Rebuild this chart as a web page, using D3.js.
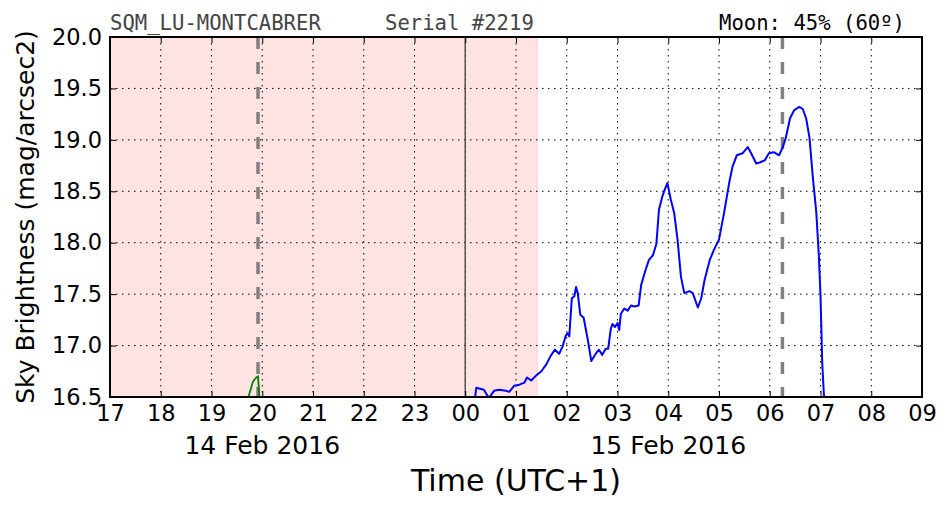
<!DOCTYPE html>
<html>
<head>
<meta charset="utf-8">
<script src="https://cdn.jsdelivr.net/npm/d3@7"></script>
<style>
  body { margin: 0; background: #fff; }
  svg { display: block; }
</style>
</head>
<body>
<div id="chart"></div>
<script>
// minutes after 00:00 on 15 Feb 2016 and sky brightness (mag/arcsec2)
const blueMinutes = [11, 13, 22, 28, 34, 40, 48, 52, 58, 64, 70, 73, 78, 84, 90, 96, 101, 106, 111, 115,
  119, 121, 123, 126, 129, 131, 133, 136, 140, 145, 149, 155, 158, 162, 166, 169, 172, 174, 177, 180,
  182, 184, 188, 192, 196, 200, 205, 208, 213, 217, 222, 226, 229, 233, 237, 239, 243, 247, 251, 255,
  259, 265, 269, 275, 279, 283, 289, 294, 300, 306, 312, 316, 321, 328, 334, 338, 344, 348, 354, 359,
  365, 371, 375, 379, 384, 389, 395, 399, 403, 407, 411, 415, 418, 420, 421, 422, 424, 425];
const blueValues = [16.45, 16.59, 16.57, 16.49, 16.56, 16.57, 16.56, 16.55, 16.61, 16.62, 16.64, 16.69, 16.66, 16.71, 16.75, 16.82, 16.90, 16.96, 16.92, 16.99,
  17.10, 17.12, 17.09, 17.46, 17.48, 17.57, 17.51, 17.30, 17.27, 17.05, 16.85, 16.93, 16.96, 16.91, 16.97, 16.97, 17.16, 17.21, 17.18, 17.22,
  17.15, 17.31, 17.36, 17.34, 17.39, 17.38, 17.39, 17.59, 17.73, 17.83, 17.88, 17.99, 18.32, 18.45, 18.54, 18.58, 18.42, 18.29, 18.03, 17.67,
  17.51, 17.53, 17.51, 17.37, 17.46, 17.64, 17.83, 17.93, 18.03, 18.29, 18.58, 18.74, 18.85, 18.87, 18.93, 18.87, 18.77, 18.78, 18.80, 18.87,
  18.88, 18.85, 18.92, 19.02, 19.21, 19.29, 19.32, 19.30, 19.21, 19.02, 18.63, 18.30, 17.88, 17.49, 17.17, 16.84, 16.52, 16.45];

// minutes after 19:00 on 14 Feb 2016
const greenMinutes = [43, 49, 53, 55, 57];
const greenValues = [16.48, 16.65, 16.69, 16.70, 16.45];

const xTickHours = [17, 18, 19, 20, 21, 22, 23, 0, 1, 2, 3, 4, 5, 6, 7, 8, 9];
const yTicks = [16.5, 17.0, 17.5, 18.0, 18.5, 19.0, 19.5, 20.0];
const dayLabels = [
  { label: '14 Feb 2016', day: 14, hour: 20 },
  { label: '15 Feb 2016', day: 15, hour: 4 }
];
const nightEnd = { day: 15, hour: 1, minute: 25 };   // end of shaded night
const midnight = { day: 15, hour: 0, minute: 0 };
const moonLines = [{ day: 14, hour: 19, minute: 55 }, { day: 15, hour: 6, minute: 15 }];

const cfg = {
  width: 952,
  height: 512,
  margin: { top: 37, right: 30, bottom: 115, left: 110 },
  tickFont: '22.5px',
  dayFont: '25px',
  titleFont: '30px',
  yTitleFont: '25px',
  headerFont: '20.6px'
};

const t = (day, hour, minute = 0) => new Date(Date.UTC(2016, 1, day, hour, minute));

const svg = d3.select('#chart').append('svg')
  .attr('width', cfg.width)
  .attr('height', cfg.height)
  .style('font-family', '"DejaVu Sans", sans-serif');

const x = d3.scaleUtc()
  .domain([t(14, 17), t(15, 9)])
  .range([cfg.margin.left, cfg.width - cfg.margin.right]);
const y = d3.scaleLinear()
  .domain([16.5, 20.0])
  .range([cfg.height - cfg.margin.bottom, cfg.margin.top]);

const x0 = x.range()[0], x1 = x.range()[1];
const y0 = y.range()[0], y1 = y.range()[1];

svg.append('defs').append('clipPath').attr('id', 'plot')
  .append('rect').attr('x', x0).attr('y', y1).attr('width', x1 - x0).attr('height', y0 - y1);

// night shading
svg.append('rect')
  .attr('x', x0).attr('y', y1)
  .attr('width', x(t(nightEnd.day, nightEnd.hour, nightEnd.minute)) - x0)
  .attr('height', y0 - y1)
  .attr('fill', '#ffe2e2')
  .attr('stroke', '#ffcfcf')
  .attr('stroke-width', 1);

// grid
const xTickDates = xTickHours.map(h => h >= 17 ? t(14, h) : t(15, h));
const grid = svg.append('g')
  .attr('stroke', '#000')
  .attr('stroke-width', 1)
  .attr('stroke-dasharray', '1.5,4.5');
grid.selectAll('line.gx').data(xTickDates.slice(1, -1)).enter().append('line')
  .attr('x1', d => x(d)).attr('x2', d => x(d))
  .attr('y1', y1).attr('y2', y0);
grid.selectAll('line.gy').data(yTicks.slice(1, -1)).enter().append('line')
  .attr('y1', d => y(d)).attr('y2', d => y(d))
  .attr('x1', x0).attr('x2', x1);

// midnight line
svg.append('line')
  .attr('x1', x(t(midnight.day, midnight.hour))).attr('x2', x(t(midnight.day, midnight.hour)))
  .attr('y1', y1).attr('y2', y0)
  .attr('stroke', '#555').attr('stroke-width', 1.5);

// moon rise/set lines
svg.selectAll('line.moon').data(moonLines).enter().append('line')
  .attr('x1', d => x(t(d.day, d.hour, d.minute))).attr('x2', d => x(t(d.day, d.hour, d.minute)))
  .attr('y1', y1).attr('y2', y0)
  .attr('stroke', '#808080').attr('stroke-width', 3.5)
  .attr('stroke-dasharray', '12,13');

// data lines
const line = d3.line().x(d => x(d.date)).y(d => y(d.value));
const blueData = blueMinutes.map((m, i) => ({ date: t(15, 0, m), value: blueValues[i] }));
const greenData = greenMinutes.map((m, i) => ({ date: t(14, 19, m), value: greenValues[i] }));

const plot = svg.append('g').attr('clip-path', 'url(#plot)');
plot.append('path').datum(greenData).attr('d', line)
  .attr('fill', 'none').attr('stroke', '#008000').attr('stroke-width', 1.8);
plot.append('path').datum(blueData).attr('d', line)
  .attr('fill', 'none').attr('stroke', '#0000ff').attr('stroke-width', 2)
  .attr('stroke-linejoin', 'round');

// axes (ticks pointing inward, matplotlib style)
const xAxisB = d3.axisBottom(x).tickValues(xTickDates).tickFormat(d3.utcFormat('%H'))
  .tickSizeInner(-6).tickSizeOuter(0).tickPadding(7);
const xAxisT = d3.axisTop(x).tickValues(xTickDates).tickFormat('')
  .tickSizeInner(-6).tickSizeOuter(0);
const yAxisL = d3.axisLeft(y).tickValues(yTicks).tickFormat(d3.format('.1f'))
  .tickSizeInner(-6).tickSizeOuter(0).tickPadding(8);
const yAxisR = d3.axisRight(y).tickValues(yTicks).tickFormat('')
  .tickSizeInner(-6).tickSizeOuter(0);

const styleAxis = g => {
  g.select('.domain').remove();
  g.selectAll('.tick line').attr('stroke', '#000').attr('stroke-width', 1);
  g.selectAll('.tick text').attr('fill', '#000').style('font-size', cfg.tickFont)
    .style('font-family', '"DejaVu Sans", sans-serif');
};

svg.append('g').attr('transform', `translate(0,${y0})`).call(xAxisB).call(styleAxis)
  .selectAll('.tick text').attr('dy', '0.75em');
svg.append('g').attr('transform', `translate(0,${y1})`).call(xAxisT).call(styleAxis);
svg.append('g').attr('transform', `translate(${x0},0)`).call(yAxisL).call(styleAxis);
svg.append('g').attr('transform', `translate(${x1},0)`).call(yAxisR).call(styleAxis);

// frame
svg.append('rect')
  .attr('x', x0).attr('y', y1).attr('width', x1 - x0).attr('height', y0 - y1)
  .attr('fill', 'none').attr('stroke', '#000').attr('stroke-width', 2);

// day labels
svg.selectAll('text.day').data(dayLabels).enter().append('text')
  .attr('x', d => x(t(d.day, d.hour)))
  .attr('y', 454)
  .attr('text-anchor', 'middle')
  .style('font-size', cfg.dayFont)
  .text(d => d.label);

// axis titles
svg.append('text')
  .attr('x', (x0 + x1) / 2)
  .attr('y', 491)
  .attr('text-anchor', 'middle')
  .style('font-size', cfg.titleFont)
  .text('Time (UTC+1)');

svg.append('text')
  .attr('transform', `translate(34,${(y0 + y1) / 2}) rotate(-90)`)
  .attr('text-anchor', 'middle')
  .style('font-size', cfg.yTitleFont)
  .text('Sky Brightness (mag/arcsec2)');

// header texts
const mono = '"DejaVu Sans Mono", monospace';
svg.append('text').attr('x', x0).attr('y', 30)
  .style('font-family', mono).style('font-size', cfg.headerFont).attr('fill', '#444')
  .text('SQM_LU-MONTCABRER');
svg.append('text').attr('x', 385).attr('y', 30)
  .style('font-family', mono).style('font-size', cfg.headerFont).attr('fill', '#444')
  .text('Serial #2219');
svg.append('text').attr('x', 905).attr('y', 30).attr('text-anchor', 'end')
  .style('font-family', mono).style('font-size', cfg.headerFont).attr('fill', '#000')
  .text('Moon: 45% (60º)');
</script>
</body>
</html>
